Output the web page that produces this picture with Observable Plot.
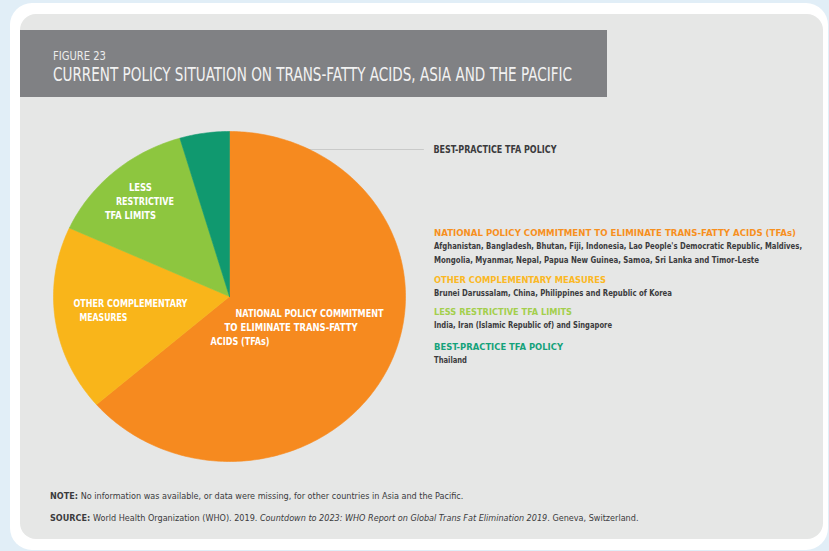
<!DOCTYPE html>
<html>
<head>
<meta charset="utf-8">
<script src="https://cdn.jsdelivr.net/npm/d3@7"></script>
<script src="https://cdn.jsdelivr.net/npm/@observablehq/plot@0.6"></script>
<style>
  html, body { margin: 0; padding: 0; background: #e1eef7; }
  #wrap { position: relative; width: 829px; height: 551px; overflow: hidden; }
  #wrap > svg { position: absolute; left: 0; top: 0; }
</style>
</head>
<body>
<div id="wrap"></div>
<script>
// ---- data ----
const figureLabel = "FIGURE 23";
const title = "CURRENT POLICY SITUATION ON TRANS-FATTY ACIDS, ASIA AND THE PACIFIC";
const categories = [
  "NATIONAL POLICY COMMITMENT TO ELIMINATE TRANS-FATTY ACIDS (TFAs)",
  "OTHER COMPLEMENTARY MEASURES",
  "LESS RESTRICTIVE TFA LIMITS",
  "BEST-PRACTICE TFA POLICY"
];
const countryCounts = [14, 4, 3, 1];
const countryLines = [
  ["Afghanistan, Bangladesh, Bhutan, Fiji, Indonesia, Lao People's Democratic Republic, Maldives,",
   "Mongolia, Myanmar, Nepal, Papua New Guinea, Samoa, Sri Lanka and Timor-Leste"],
  ["Brunei Darussalam, China, Philippines and Republic of Korea"],
  ["India, Iran (Islamic Republic of) and Singapore"],
  ["Thailand"]
];
const pieLabels = [
  ["NATIONAL POLICY COMMITMENT", "TO ELIMINATE TRANS-FATTY", "ACIDS (TFAs)"],
  ["OTHER COMPLEMENTARY", "MEASURES"],
  ["LESS", "RESTRICTIVE", "TFA LIMITS"],
  []
];
const calloutLabel = "BEST-PRACTICE TFA POLICY";
const noteText = "No information was available, or data were missing, for other countries in Asia and the Pacific.";
const sourcePre = "World Health Organization (WHO). 2019. ";
const sourceItalic = "Countdown to 2023: WHO Report on Global Trans Fat Elimination 2019";
const sourcePost = ". Geneva, Switzerland.";

// ---- styles / layout ----
const sliceColors = ["#f68a1f", "#f9b51a", "#8dc63f", "#10996f"];
const legendColors = ["#f7901e", "#fbb824", "#a3cf4c", "#14a27a"];
const FONT = "'Liberation Sans Narrow','DejaVu Sans Condensed','Roboto Condensed',sans-serif";
const labelRadius = [0.45, 0.58, 0.76, 0.9];
const labelLineDx = [[-66, -77, -91], [-55, -49], [-13, -26, -37], []];
const labelLineWidths = [[148, 133, 59], [114, 48], [23, 58, 51], []];

// ---- static frame (background, titles, legend, notes) ----
const NS = "http://www.w3.org/2000/svg";
const wrap = document.getElementById("wrap");
const bg = document.createElementNS(NS, "svg");
bg.setAttribute("width", 829); bg.setAttribute("height", 551);
function el(tag, attrs, parent) {
  const e = document.createElementNS(NS, tag);
  for (const k in attrs) e.setAttribute(k, attrs[k]);
  (parent || bg).appendChild(e);
  return e;
}
function txt(x, y, str, attrs, width) {
  const t = el("text", Object.assign({x, y, "font-family": FONT}, attrs));
  t.textContent = str;
  if (width) { t.setAttribute("textLength", width); t.setAttribute("lengthAdjust", "spacingAndGlyphs"); }
  return t;
}
el("rect", {x: 10, y: 3, width: 818, height: 547, rx: 22, fill: "#ffffff"});
el("rect", {x: 20, y: 14, width: 803, height: 525, rx: 16, fill: "#e6e7e6"});
el("rect", {x: 20, y: 30, width: 587, height: 67, fill: "#808184"});
txt(53, 60, figureLabel, {"font-size": 13, fill: "#ececec"}, 53);
txt(53, 80.5, title, {"font-size": 20, fill: "#f2f2f2"}, 519);

// legend
const legendX = 434;
const headerY = [236, 283, 315, 350];
const headerW = [362, 172, 138, 129];
const bodyW = [[368, 325], [238], [178], [33]];
categories.forEach((c, i) => {
  txt(legendX, headerY[i], c, {"font-size": 9.2, "font-weight": "bold", fill: legendColors[i]}, headerW[i]);
  countryLines[i].forEach((line, j) => {
    txt(legendX, headerY[i] + 13.3 * (j + 1), line, {"font-size": 8.6, "font-weight": "bold", fill: "#3b3b3d"}, bodyW[i][j]);
  });
});

// notes
const n = txt(50, 499, "", {"font-size": 9, fill: "#3b3b3d"});
el("tspan", {"font-weight": "bold"}, n).textContent = "NOTE: ";
el("tspan", {}, n).textContent = noteText;
const s = txt(50, 521, "", {"font-size": 9, fill: "#3b3b3d"});
el("tspan", {"font-weight": "bold"}, s).textContent = "SOURCE: ";
el("tspan", {}, s).textContent = sourcePre;
el("tspan", {"font-style": "italic"}, s).textContent = sourceItalic;
el("tspan", {}, s).textContent = sourcePost;
wrap.appendChild(bg);

// ---- pie via Plot ----
const arcs = d3.pie().sort(null)(countryCounts);
const slices = arcs.map((a, i) => {
  const pts = [{x: 0, y: 0}];
  const steps = Math.max(4, Math.ceil((a.endAngle - a.startAngle) / (Math.PI / 180)));
  for (let k = 0; k <= steps; k++) {
    const t = a.startAngle + (a.endAngle - a.startAngle) * k / steps;
    pts.push({x: Math.sin(t), y: -Math.cos(t)});
  }
  pts.push({x: 0, y: 0});
  return pts;
});
const centroid = (i, r) => {
  const m = (arcs[i].startAngle + arcs[i].endAngle) / 2;
  return {x: r * Math.sin(m), y: -r * Math.cos(m)};
};
const tealC = centroid(3, labelRadius[3]);
const leader = [{x: tealC.x, y: tealC.y}, {x: 1.102, y: tealC.y}];

const labelRows = [];
pieLabels.forEach((lines, i) => {
  const c = centroid(i, labelRadius[i]);
  lines.forEach((t, j) => {
    labelRows.push({x: c.x, y: c.y, text: t, dx: labelLineDx[i][j], dy: (j - (lines.length - 1) / 2) * 14, w: labelLineWidths[i][j]});
  });
});

const plot = Plot.plot({
  width: 829, height: 551, margin: 0,
  style: {background: "transparent", overflow: "visible"},
  x: {domain: [-1, 1], range: [53, 405], axis: null},
  y: {domain: [-1, 1], range: [131, 461], axis: null},
  marks: [
    Plot.line(leader, {x: "x", y: "y", stroke: "#c9cac9", strokeWidth: 1}),
    ...slices.map((pts, i) => Plot.line(pts, {x: "x", y: "y", fill: sliceColors[i], stroke: sliceColors[i], strokeWidth: 0.6, curve: "linear"})),
    ...labelRows.map(r => Plot.text([r], {x: "x", y: "y", text: "text", dx: r.dx, dy: r.dy, textAnchor: "start", fill: "white", fontSize: 11, fontWeight: "bold", fontFamily: FONT})),
    Plot.text([leader[1]], {x: "x", y: "y", text: () => calloutLabel, dx: 10, textAnchor: "start", fill: "#3b3b3d", fontSize: 10, fontWeight: "bold", fontFamily: FONT})
  ]
});
wrap.appendChild(plot);

// fit pie label widths to the reference
Array.from(plot.querySelectorAll("text")).forEach(t => {
  const r = labelRows.find(r => r.text === t.textContent);
  const w = r ? r.w : (t.textContent === calloutLabel ? 123 : null);
  if (w) {
    t.setAttribute("textLength", w);
    t.setAttribute("lengthAdjust", "spacingAndGlyphs");
  }
});
</script>
</body>
</html>
